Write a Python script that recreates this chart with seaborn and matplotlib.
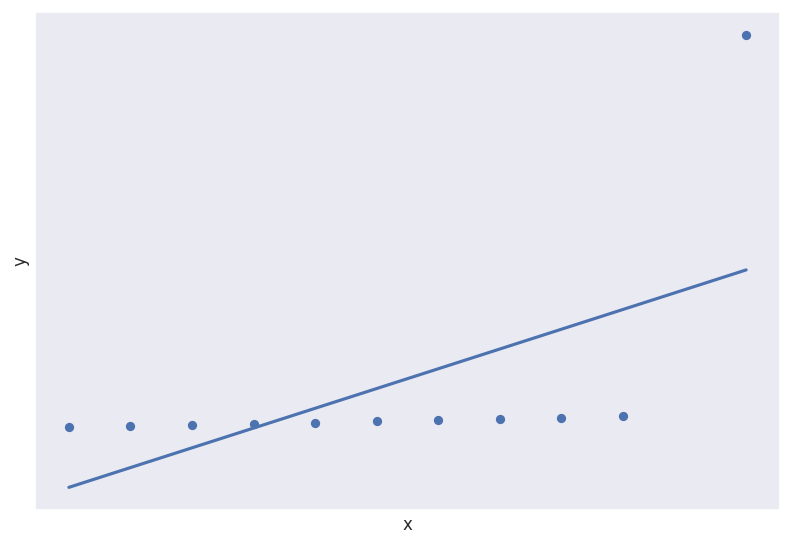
import matplotlib
matplotlib.use("Agg")
import matplotlib.pyplot as plt
import pandas as pd
import seaborn as sns

x_vals = [0, 1, 2, 3, 4, 5, 6, 7, 8, 9, 11]
y_vals = [7.3, 7.4, 7.5, 7.65, 7.75, 7.9, 8.0, 8.15, 8.25, 8.4, 46.6]

df = pd.DataFrame({"x": x_vals, "y": y_vals})

sns.set_theme(style="darkgrid", palette="deep")

fig, ax = plt.subplots(figsize=(7.92, 5.46), dpi=100)
sns.regplot(data=df, x="x", y="y", ci=None, ax=ax,
            scatter_kws={"s": 32, "alpha": 1})
ax.set_xticks([])
ax.set_yticks([])

fig.subplots_adjust(left=35 / 792, right=780 / 792, bottom=1 - 510 / 546, top=1 - 12 / 546)
fig.savefig("out.png", dpi=100)
